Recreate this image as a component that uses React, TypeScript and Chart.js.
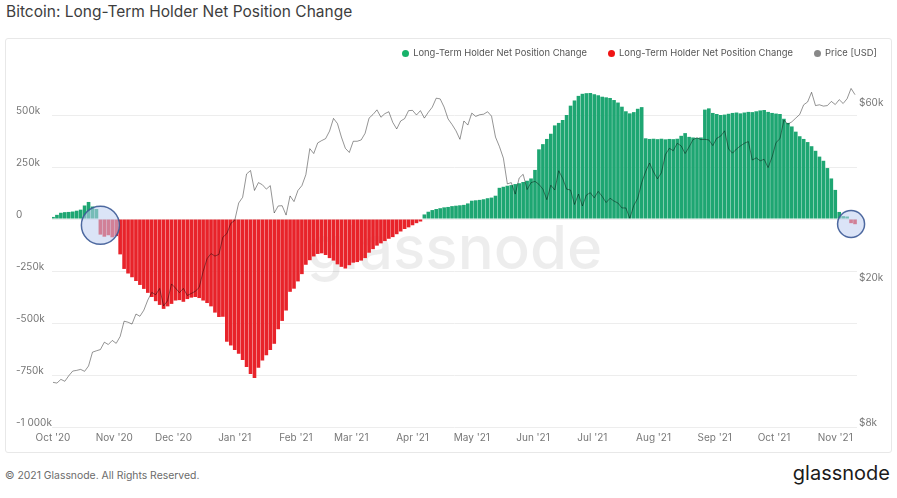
import React, { useEffect, useRef } from "react";
import { Chart, registerables } from "chart.js";

Chart.register(...registerables);

// ---------- data ----------
const START_DATE = "2020-10-01";
const STEP_DAYS = 2;

// Long-Term Holder net position change, thousands of BTC, every 2 days from START_DATE
const NET_POSITION_K = [
  10, 20, 30, 33, 34, 36, 40, 45, 65, 82,
  60, 48, -75, -85, -78, -88, -82, -170, -240, -262,
  -280, -298, -317, -336, -355, -375, -395, -413, -432, -420,
  -408, -392, -390, -398, -385, -378, -375, -380, -392, -404,
  -420, -450, -471, -470, -590, -608, -630, -648, -678, -712,
  -745, -765, -715, -680, -655, -630, -600, -530, -490, -440,
  -350, -335, -300, -265, -220, -198, -180, -168, -165, -173,
  -188, -200, -218, -230, -238, -222, -210, -207, -200, -188,
  -162, -145, -128, -117, -106, -95, -87, -73, -60, -48,
  -40, -30, -20, -12, 22, 35, 43, 48, 52, 56,
  58, 62, 64, 66, 68, 75, 88, 90, 92, 95,
  100, 103, 112, 150, 155, 160, 163, 168, 172, 178,
  184, 195, 236, 335, 360, 385, 410, 450, 462, 476,
  500, 545, 570, 592, 602, 605, 606, 600, 595, 588,
  585, 582, 572, 560, 540, 518, 508, 514, 530, 538,
  388, 385, 386, 384, 386, 383, 385, 384, 386, 400,
  413, 395, 392, 390, 392, 526, 532, 510, 505, 500,
  502, 506, 510, 512, 508, 512, 515, 514, 518, 522,
  524, 515, 510, 507, 505, 482, 462, 445, 420, 398,
  385, 370, 350, 328, 300, 280, 245, 195, 140, 34,
  14, 12, -20, -25,
];

// BTC price, thousands of USD, same dates
const PRICE_K = [
  10.6, 10.55, 10.8, 10.67, 11.05, 11.38, 11.43, 11.5, 11.36, 11.75,
  12.82, 12.93, 13.03, 13.65, 13.45, 13.8, 13.55, 14.15, 15.58, 15.48,
  15.3, 16.3, 16.07, 16.7, 17.8, 18.68, 18.4, 19.15, 17.15, 17.72,
  19.7, 19.2, 18.65, 19.15, 18.32, 18.55, 18.8, 19.27, 21.3, 23.1,
  23.85, 23.48, 23.73, 26.45, 27.05, 28.85, 29.4, 32.8, 34.0, 39.4,
  40.25, 35.5, 37.3, 36.8, 35.8, 36.6, 30.8, 32.2, 32.25, 30.4,
  34.3, 33.1, 35.5, 36.6, 39.2, 46.2, 44.8, 47.9, 48.6, 49.2,
  51.6, 55.9, 54.1, 49.7, 46.3, 45.1, 48.4, 48.4, 48.8, 50.9,
  56.0, 57.3, 59.0, 56.3, 57.6, 58.3, 54.5, 52.3, 55.0, 55.8,
  58.7, 58.8, 57.1, 58.7, 56.0, 58.1, 60.0, 63.5, 63.2, 60.0,
  55.7, 53.8, 51.7, 49.0, 55.0, 53.6, 57.8, 56.6, 57.2, 57.4,
  58.3, 56.7, 49.7, 46.8, 43.5, 37.0, 37.3, 34.7, 38.4, 39.3,
  35.7, 37.3, 37.6, 36.9, 35.8, 33.5, 36.7, 35.6, 40.2, 38.3,
  35.8, 35.6, 32.5, 34.7, 32.2, 34.5, 35.0, 33.9, 35.3, 34.2,
  32.9, 33.8, 33.2, 32.8, 31.8, 31.8, 29.8, 32.3, 33.8, 37.3,
  40.0, 42.2, 39.9, 38.2, 39.7, 44.5, 46.3, 45.6, 47.8, 47.0,
  44.8, 46.7, 48.9, 49.5, 48.9, 49.0, 48.8, 47.1, 49.3, 50.0,
  51.7, 46.1, 44.9, 46.1, 47.0, 47.8, 48.3, 43.0, 43.6, 42.8,
  43.2, 41.0, 43.8, 48.0, 49.2, 55.3, 53.9, 54.7, 56.0, 57.3,
  60.9, 62.0, 65.9, 60.6, 60.9, 60.4, 60.6, 62.2, 61.0, 62.9,
  61.4, 63.3, 67.5, 64.9,
];

const MONTH_TICKS = [
  "2020-10-01", "2020-11-01", "2020-12-01", "2021-01-01", "2021-02-01",
  "2021-03-01", "2021-04-01", "2021-05-01", "2021-06-01", "2021-07-01",
  "2021-08-01", "2021-09-01", "2021-10-01", "2021-11-01",
];
const MONTH_LABELS = [
  "Oct '20", "Nov '20", "Dec '20", "Jan '21", "Feb '21", "Mar '21", "Apr '21",
  "May '21", "Jun '21", "Jul '21", "Aug '21", "Sep '21", "Oct '21", "Nov '21",
];

const Y_TICKS = [-1000000, -750000, -500000, -250000, 0, 250000, 500000];
const Y_TICK_LABELS = ["-1 000k", "-750k", "-500k", "-250k", "0", "250k", "500k"];
const PRICE_TICKS = [8000, 20000, 60000];
const PRICE_TICK_LABELS = ["$8k", "$20k", "$60k"];

const HIGHLIGHTS = [
  { date: "2020-10-25", value: -30000, radius: 19 },
  { date: "2021-11-09", value: -24000, radius: 13.5 },
];

const SERIES_LABEL = "Long-Term Holder Net Position Change";
const PRICE_LABEL = "Price [USD]";

// ---------- styling ----------
const FONT = "Inter, 'Noto Sans', 'DejaVu Sans', sans-serif";
const GREEN = "#1ea672";
const RED = "#e8232a";
const TICK_COLOR = "#777";

const dayOf = (d: string) => (Date.parse(d) - Date.parse(START_DATE)) / 86400000;

const watermarkPlugin = {
  id: "watermark",
  beforeDatasetsDraw(chart: any) {
    const { ctx, chartArea } = chart;
    ctx.save();
    ctx.font = `500 60px ${FONT}`;
    ctx.fillStyle = "rgba(0,0,0,0.07)";
    ctx.textAlign = "center";
    ctx.textBaseline = "middle";
    ctx.fillText("glassnode", (chartArea.left + chartArea.right) / 2, (chartArea.top + chartArea.bottom) / 2 - 2);
    ctx.restore();
  },
};

const highlightPlugin = {
  id: "highlights",
  afterDatasetsDraw(chart: any) {
    const { ctx } = chart;
    const xs = chart.scales.x;
    const ys = chart.scales.y;
    ctx.save();
    for (const h of HIGHLIGHTS) {
      const cx = xs.getPixelForValue(dayOf(h.date));
      const cy = ys.getPixelForValue(h.value);
      ctx.beginPath();
      ctx.arc(cx, cy, h.radius, 0, Math.PI * 2);
      ctx.fillStyle = "rgba(190,205,240,0.55)";
      ctx.fill();
      ctx.lineWidth = 1.5;
      ctx.strokeStyle = "rgba(60,90,150,0.9)";
      ctx.stroke();
    }
    ctx.restore();
  },
};

export default function App() {
  const ref = useRef<HTMLCanvasElement | null>(null);

  useEffect(() => {
    if (!ref.current) return;
    const pos = NET_POSITION_K.map((v, i) => ({ x: i * STEP_DAYS, y: v >= 0 ? v * 1000 : null }));
    const neg = NET_POSITION_K.map((v, i) => ({ x: i * STEP_DAYS, y: v < 0 ? v * 1000 : null }));
    const price = PRICE_K.map((v, i) => ({ x: i * STEP_DAYS, y: v * 1000 }));
    const tickFont = { family: FONT, size: 10 };

    const chart = new Chart(ref.current, {
      type: "bar",
      data: {
        datasets: [
          {
            type: "bar",
            label: SERIES_LABEL,
            data: pos as any,
            backgroundColor: GREEN,
            yAxisID: "y",
            grouped: false,
            barPercentage: 1,
            categoryPercentage: 0.92,
            order: 2,
          } as any,
          {
            type: "bar",
            label: SERIES_LABEL,
            data: neg as any,
            backgroundColor: RED,
            yAxisID: "y",
            grouped: false,
            barPercentage: 1,
            categoryPercentage: 0.92,
            order: 2,
          } as any,
          {
            type: "line",
            label: PRICE_LABEL,
            data: price as any,
            borderColor: "rgba(0,0,0,0.42)",
            borderWidth: 1,
            pointRadius: 0,
            tension: 0,
            yAxisID: "y1",
            order: 0,
          } as any,
        ],
      },
      options: {
        responsive: false,
        animation: false,
        devicePixelRatio: 1,
        layout: { padding: { left: 11, right: 0, top: 40, bottom: 0 } },
        plugins: {
          legend: { display: false },
          tooltip: { enabled: false },
          title: { display: false },
        },
        scales: {
          x: {
            type: "linear",
            offset: false,
            min: -0.5,
            max: 407,
            afterBuildTicks: (s: any) => {
              s.ticks = MONTH_TICKS.map((d) => ({ value: dayOf(d) }));
            },
            afterFit: (s: any) => {
              s.height = 25;
              s.paddingLeft = 0;
              s.paddingRight = 0;
            },
            ticks: {
              callback: (_v: any, i: number) => MONTH_LABELS[i],
              autoSkip: false,
              maxRotation: 0,
              padding: 5,
              color: TICK_COLOR,
              font: tickFont,
            },
            grid: { display: false, drawTicks: false, offset: false },
            border: { display: false },
          },
          y: {
            type: "linear",
            position: "left",
            min: -1000000,
            max: 678000,
            afterBuildTicks: (s: any) => {
              s.ticks = Y_TICKS.map((v) => ({ value: v }));
            },
            afterFit: (s: any) => {
              s.width = 36;
              s.paddingTop = 0;
              s.paddingBottom = 0;
            },
            ticks: {
              callback: (_v: any, i: number) => Y_TICK_LABELS[i],
              crossAlign: "far",
              labelOffset: -4,
              padding: 0,
              color: TICK_COLOR,
              font: tickFont,
            },
            grid: { color: "#ededed", drawTicks: false },
            border: { display: false },
          },
          y1: {
            type: "logarithmic",
            position: "right",
            min: 8000,
            max: 72100,
            afterBuildTicks: (s: any) => {
              s.ticks = PRICE_TICKS.map((v) => ({ value: v }));
            },
            afterFit: (s: any) => {
              s.width = 34;
              s.paddingTop = 0;
              s.paddingBottom = 0;
            },
            ticks: {
              callback: (_v: any, i: number) => PRICE_TICK_LABELS[i],
              crossAlign: "near",
              labelOffset: -4,
              padding: 2,
              color: TICK_COLOR,
              font: tickFont,
            },
            grid: { display: false, drawTicks: false },
            border: { display: false },
          },
        },
      } as any,
      plugins: [watermarkPlugin, highlightPlugin],
    });
    return () => chart.destroy();
  }, []);

  const legendItem = (color: string, text: string, ml: number) => (
    <div style={{ display: "flex", alignItems: "center", marginLeft: ml }}>
      <span style={{ width: 7, height: 7, borderRadius: "50%", background: color, marginRight: 4, display: "inline-block" }} />
      <span>{text}</span>
    </div>
  );

  return (
    <div style={{ position: "absolute", left: 0, top: 0, width: 897, height: 498, background: "#fff", fontFamily: FONT, overflow: "hidden" }}>
      <div style={{ position: "absolute", left: 6, top: 3, fontSize: 15.5, lineHeight: "18px", color: "#3d3d3d" }}>
        Bitcoin: Long-Term Holder Net Position Change
      </div>
      <div style={{ position: "absolute", left: 5, top: 38, width: 887, height: 415, border: "1px solid #e8e8e8", boxSizing: "border-box", borderRadius: 3 }} />
      <canvas ref={ref} width={886} height={414} style={{ position: "absolute", left: 5, top: 38, width: 886, height: 414 }} />
      <div style={{ position: "absolute", right: 20, top: 47, display: "flex", fontSize: 9.4, lineHeight: "12px", color: "#555" }}>
        {legendItem("#17b26a", SERIES_LABEL, 0)}
        {legendItem("#f01414", SERIES_LABEL, 21)}
        {legendItem("#888", PRICE_LABEL, 21)}
      </div>
      <div style={{ position: "absolute", left: 5, top: 469, fontSize: 10.4, lineHeight: "14px", color: "#6b6b6b" }}>
        © 2021 Glassnode. All Rights Reserved.
      </div>
      <div style={{ position: "absolute", right: 7, top: 461, fontSize: 20, lineHeight: "24px", color: "#1b1b1b" }}>
        glassnode
      </div>
    </div>
  );
}
